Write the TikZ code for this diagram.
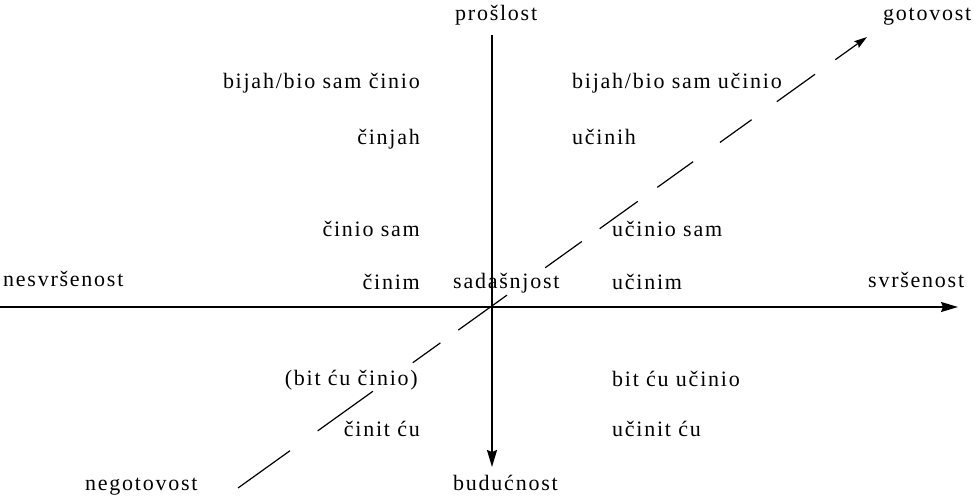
\documentclass[tikz,border=0pt]{standalone}
\usepackage{fontspec}
\setmainfont[LetterSpace=8]{Liberation Serif}
\usetikzlibrary{arrows.meta}
\begin{document}
\begin{tikzpicture}[x=1pt,y=-1pt,
  lbl/.style={inner sep=0pt,font=\fontsize{22}{26}\selectfont},
  axis/.style={line width=1.6pt,-{Stealth[length=17pt,width=10pt,inset=2pt]}},
  dashaxis/.style={line width=1.2pt,-{Stealth[length=13pt,width=8pt,inset=2pt]},
    dash pattern=on 64pt off 34pt on 68pt off 49pt on 34pt off 22pt on 60pt off 47pt on 45pt off 22pt on 47pt off 24pt on 44pt off 33pt on 39pt off 31pt on 47pt off 25pt on 80pt off 20pt}
]
\useasboundingbox (0,0) rectangle (973,497);
% axis end points
\coordinate (hl) at (0,307);
\coordinate (hr) at (958,307);
\coordinate (vt) at (492,35);
\coordinate (vb) at (492,467);
\coordinate (dA) at (238,488);
\coordinate (dB) at (867,37);
% axes
\draw[axis] (hl) -- (hr);
\draw[axis] (vt) -- (vb);
\draw[dashaxis] (dA) -- (dB);
% axis labels
\node[lbl,anchor=base west] (past) at (455,21) {prošlost};
\node[lbl,anchor=base west] (done) at (883,21) {gotovost};
\node[lbl,anchor=base west] (impf) at (3,286) {nesvršenost};
\node[lbl,anchor=base west] (pres) at (453,288) {sadašnjost};
\node[lbl,anchor=base west] (perf) at (868,287) {svršenost};
\node[lbl,anchor=base west] (undone) at (85,490) {negotovost};
\node[lbl,anchor=base west] (fut) at (453,490) {budućnost};
% left column
\node[lbl,anchor=base east] (l1) at (420,89) {bijah/bio sam činio};
\node[lbl,anchor=base east] (l2) at (420,145) {činjah};
\node[lbl,anchor=base east] (l3) at (420,236) {činio sam};
\node[lbl,anchor=base east] (l4) at (420,289) {činim};
\node[lbl,anchor=base east] (l5) at (418,385) {(bit ću činio)};
\node[lbl,anchor=base east] (l6) at (420,436) {činit ću};
% right column
\node[lbl,anchor=base west] (r1) at (572,89) {bijah/bio sam učinio};
\node[lbl,anchor=base west] (r2) at (572,145) {učinih};
\node[lbl,anchor=base west] (r3) at (612,236) {učinio sam};
\node[lbl,anchor=base west] (r4) at (612,289) {učinim};
\node[lbl,anchor=base west] (r5) at (612,386) {bit ću učinio};
\node[lbl,anchor=base west] (r6) at (612,436) {učinit ću};
\end{tikzpicture}
\end{document}
